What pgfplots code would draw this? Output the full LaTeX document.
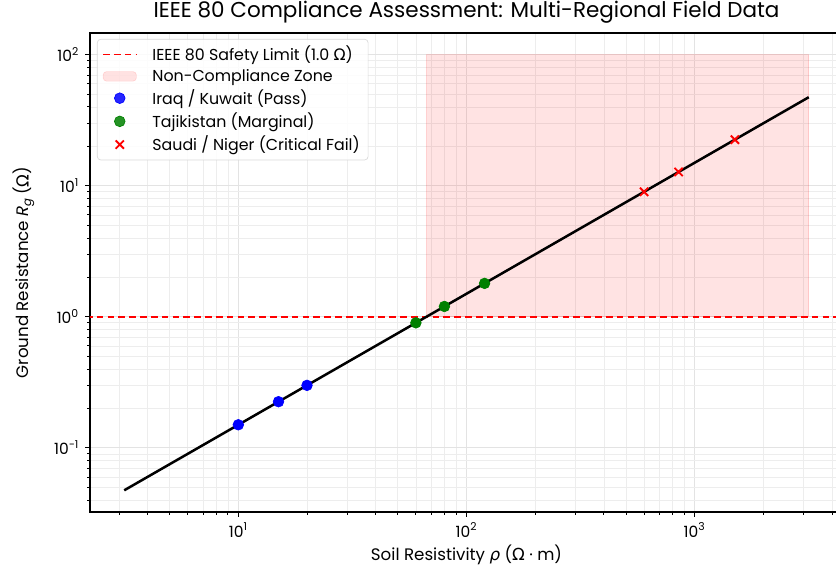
\documentclass[border=0pt]{standalone}
\usepackage{fontspec}
\setmainfont{Poppins}
\newfontfamily\dv{DejaVu Sans}
\usepackage{pgfplots}
\pgfplotsset{compat=1.18}
\definecolor{zone}{HTML}{FF0000}
\pgfplotsset{
  lineleg/.style={legend image code/.code={\path (0cm,0cm) (0.95cm,0cm); \draw[##1] (0cm,0cm) -- (0.7cm,0cm);}},
  arealeg/.style={legend image code/.code={\path (0cm,0cm) (0.95cm,0cm); \draw[##1] (0cm,-0.1cm) rectangle (0.7cm,0.1cm);}},
  markleg/.style={legend image code/.code={\path (0cm,0cm) (0.95cm,0cm); \draw[##1] plot coordinates {(0.35cm,0cm)};}},
}
\begin{document}
\begin{tikzpicture}
\begin{axis}[
  name=ax,
  scale only axis,
  width=451.8pt, height=287.4pt,
  xmode=log, ymode=log,
  xmin=2.2387, xmax=4467, ymin=0.0324, ymax=146.6,
  xtick={10,100,1000},
  xticklabels={10\textsuperscript{1},10\textsuperscript{2},10\textsuperscript{3}},
  ytick={0.1,1,10,100},
  yticklabels={10\textsuperscript{−1},10\textsuperscript{0},10\textsuperscript{1},10\textsuperscript{2}},
  minor xtick={3,4,5,6,7,8,9,20,30,40,50,60,70,80,90,200,300,400,500,600,700,800,900,2000,3000,4000},
  minor ytick={0.04,0.05,0.06,0.07,0.08,0.09,0.2,0.3,0.4,0.5,0.6,0.7,0.8,0.9,2,3,4,5,6,7,8,9,20,30,40,50,60,70,80,90},
  xtick pos=bottom, ytick pos=left,
  tick align=outside,
  major tick length=3pt, minor tick length=1.8pt,
  every tick/.style={black, line width=0.5pt},
  grid=both,
  major grid style={gray!22, line width=0.5pt},
  minor grid style={gray!14, line width=0.4pt},
  axis line style={black, line width=0.7pt},
  tick label style={font=\fontsize{9.3}{10}\selectfont},
  xlabel={Soil Resistivity {\dv\itshape ρ} ({\dv Ω} · m)},
  ylabel={Ground Resistance \textit{R}\textsubscript{\textit{g}}\,({\dv Ω})},
  label style={font=\fontsize{10}{11}\selectfont},
  xlabel style={yshift=2pt},
  ylabel style={yshift=5pt},
  title={IEEE 80 Compliance Assessment: Multi-Regional Field Data},
  title style={font=\fontsize{12.9}{14}\selectfont, yshift=-4pt},
  legend cell align=left,
  legend style={at={(0.0093,0.9875)}, anchor=north west, draw=gray!30, rounded corners=2pt,
    fill=white, fill opacity=0.85, text opacity=1, font=\fontsize{9.5}{11}\selectfont,
    row sep=-0.5pt, inner xsep=3pt, inner ysep=2pt},
]
\addplot[red, line width=1pt, dash pattern=on 4pt off 2.5pt, lineleg] coordinates {(1,1) (10000,1)};
\addlegendentry{IEEE 80 Safety Limit (1.0 {\dv Ω})}
\addplot[fill=zone, fill opacity=0.11, draw=zone, draw opacity=0.12, arealeg] coordinates {(66.67,1) (3162.3,1) (3162.3,100) (66.67,100) (66.67,1)};
\addlegendentry{Non-Compliance Zone}
\addplot[black, line width=1.5pt, forget plot] coordinates {(3.1623,0.04743) (3162.3,47.43)};
\addplot[only marks, mark=*, mark size=3.2pt, color=blue, mark options={draw=blue, fill=blue}, markleg] coordinates {(10,0.15) (15,0.225) (20,0.3)};
\addlegendentry{Iraq / Kuwait (Pass)}
\addplot[only marks, mark=*, mark size=3.2pt, color=green!50!black, mark options={draw=green!50!black, fill=green!50!black}, markleg] coordinates {(60,0.9) (80,1.2) (120,1.8)};
\addlegendentry{Tajikistan (Marginal)}
\addplot[only marks, mark=x, mark size=3.5pt, color=red, mark options={line width=1.1pt}, markleg] coordinates {(600,9) (850,12.75) (1500,22.5)};
\addlegendentry{Saudi / Niger (Critical Fail)}
\end{axis}
\pgfresetboundingbox
\path[use as bounding box] ([shift={(-54pt,-33pt)}]ax.south west) rectangle ([shift={(447.6pt,307.2pt)}]ax.south west);
\end{tikzpicture}
\end{document}
